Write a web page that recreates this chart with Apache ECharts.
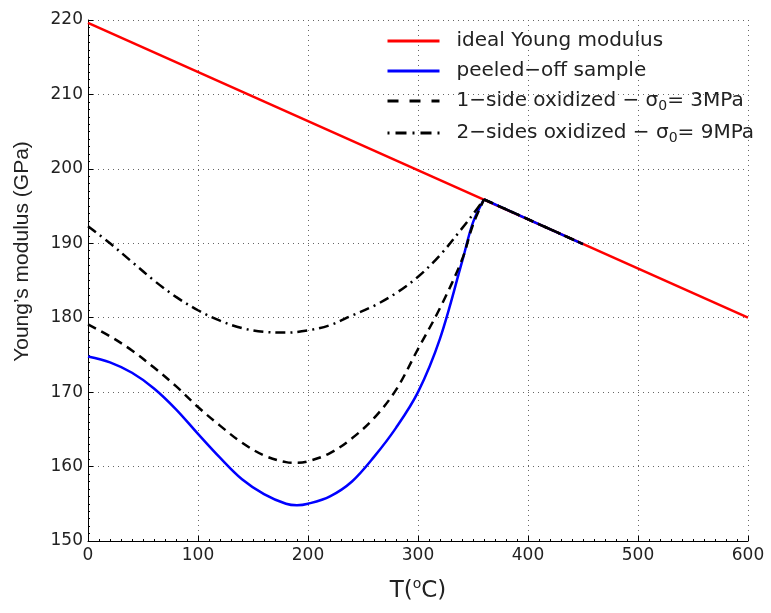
<!DOCTYPE html>
<html>
<head>
<meta charset="utf-8">
<script src="https://cdn.jsdelivr.net/npm/echarts@6/dist/echarts.min.js"></script>
<style>html,body{margin:0;padding:0;background:#fff}#c{width:771px;height:613px}</style>
</head>
<body>
<div id="c"></div>
<script>
// Data
const idealX = [0, 600];
const idealY = [219.6, 180.0];

// curved part (0..360 °C)
const peeledX = [0, 20, 40, 60, 80, 100, 120, 140, 160, 180, 190, 200, 220, 240, 260, 280, 300, 320, 340, 350, 360];
const peeledY = [174.8, 174.0, 172.6, 170.5, 167.7, 164.4, 161.2, 158.3, 156.3, 155.0, 154.8, 155.0, 156.0, 158.0, 161.3, 165.2, 170.0, 177.2, 187.5, 192.8, 195.9];

const oneSideX = [0, 20, 40, 60, 80, 100, 120, 140, 160, 180, 190, 200, 220, 240, 260, 280, 300, 320, 340, 350, 360];
const oneSideY = [179.1, 177.5, 175.6, 173.3, 170.8, 168.0, 165.5, 163.2, 161.5, 160.6, 160.5, 160.7, 161.8, 163.8, 166.5, 170.3, 175.8, 181.3, 187.8, 192.5, 195.9];

const twoSidesX = [0, 20, 40, 60, 80, 100, 120, 140, 160, 180, 200, 220, 240, 260, 280, 300, 320, 340, 350, 360];
const twoSidesY = [192.3, 190.0, 187.5, 185.0, 182.8, 181.0, 179.6, 178.6, 178.1, 178.0, 178.3, 179.0, 180.3, 181.6, 183.3, 185.5, 188.4, 192.0, 193.9, 195.9];

// straight part shared by the three measured curves (360..450 °C)
const tailX = [360, 450];
const tailY = [195.9, 189.9];

const xTicks = [0, 100, 200, 300, 400, 500, 600];
const yTicks = [150, 160, 170, 180, 190, 200, 210, 220];

const seriesNames = ['ideal Young modulus', 'peeled\u2212off sample', '1\u2212side oxidized \u2212 \u03c30= 3MPa', '2\u2212sides oxidized \u2212 \u03c30= 9MPa'];
const legendRich = {
  'ideal Young modulus': '{a|ideal Young modulus}',
  'peeled\u2212off sample': '{a|peeled\u2212off sample}',
  '1\u2212side oxidized \u2212 \u03c30= 3MPa': '{a|1\u2212side oxidized \u2212 \u03c3}{s|0}{a|= 3MPa}',
  '2\u2212sides oxidized \u2212 \u03c30= 9MPa': '{a|2\u2212sides oxidized \u2212 \u03c3}{s|0}{a|= 9MPa}'
};

function pairs(xs, ys) { return xs.map((x, i) => [x, ys[i]]); }

const chart = echarts.init(document.getElementById('c'), null, {renderer: 'canvas'});
const lblFont = 'DejaVu Sans';
const gridLine = {show: true, lineStyle: {color: '#666', type: [1, 4], width: 1}};

const blueStyle = {color: '#0000ff', width: 2.5};
const dashStyle = {color: '#000', width: 2.5, type: [9, 6]};
const dashDotStyle = {color: '#000', width: 2.5, type: [10, 5, 2, 5]};

function lineSeries(name, xs, ys, style, z, smooth) {
  return {name: name, type: 'line', data: pairs(xs, ys), showSymbol: false, symbol: 'none',
    smooth: smooth, lineStyle: style, itemStyle: {color: style.color}, z: z};
}

chart.setOption({
  animation: false,
  backgroundColor: '#fff',
  grid: {left: 88, right: 23, top: 20, bottom: 72, containLabel: false},
  legend: {
    orient: 'vertical',
    left: 381,
    top: 26,
    itemWidth: 52,
    itemHeight: 14,
    itemGap: 10,
    data: [
      {name: seriesNames[0]},
      {name: seriesNames[1]},
      {name: seriesNames[2], lineStyle: {type: [11, 11]}},
      {name: seriesNames[3], lineStyle: {type: [11, 6, 2, 6], dashOffset: 17}}
    ],
    formatter: n => legendRich[n],
    itemStyle: {opacity: 0},
    lineStyle: {width: 3},
    textStyle: {
      color: '#222',
      padding: [0, 0, 0, 12],
      rich: {
        a: {fontFamily: lblFont, fontSize: 20, color: '#222', lineHeight: 24},
        s: {fontFamily: lblFont, fontSize: 14, color: '#222', verticalAlign: 'bottom'}
      }
    }
  },
  xAxis: {
    type: 'value', min: xTicks[0], max: xTicks[xTicks.length - 1], interval: 100,
    name: '{a|T(}{o|o}{a|C)}', nameLocation: 'middle', nameGap: 36,
    nameTextStyle: {
      rich: {
        a: {fontFamily: lblFont, fontSize: 23, color: '#222', lineHeight: 28},
        o: {fontFamily: lblFont, fontSize: 14, color: '#222', verticalAlign: 'top', lineHeight: 18}
      }
    },
    axisLine: {show: true, lineStyle: {color: '#000', width: 1}},
    axisTick: {show: true, inside: true, length: 5, lineStyle: {color: '#000'}},
    minorTick: {show: true, splitNumber: 10, length: 2, lineStyle: {color: '#000'}},
    axisLabel: {fontFamily: lblFont, fontSize: 17, color: '#222', margin: 6},
    splitLine: gridLine
  },
  yAxis: {
    type: 'value', min: yTicks[0], max: yTicks[yTicks.length - 1], interval: 10,
    name: 'Young\u2019s modulus (GPa)', nameLocation: 'middle', nameGap: 55,
    nameTextStyle: {fontFamily: 'Liberation Sans', fontSize: 21, color: '#222', padding: [0, 0, 0, 58]},
    axisLine: {show: true, lineStyle: {color: '#000', width: 1}},
    axisTick: {show: true, inside: true, length: 5, lineStyle: {color: '#000'}},
    minorTick: {show: true, splitNumber: 10, length: 2, lineStyle: {color: '#000'}},
    axisLabel: {fontFamily: lblFont, fontSize: 17, color: '#222', margin: 5},
    splitLine: gridLine
  },
  series: [
    lineSeries(seriesNames[0], idealX, idealY, {color: '#ff0000', width: 2.5}, 1, false),
    lineSeries(seriesNames[1], peeledX, peeledY, blueStyle, 2, 0.35),
    lineSeries(seriesNames[1], tailX, tailY, blueStyle, 2, false),
    lineSeries(seriesNames[2], oneSideX, oneSideY, dashStyle, 3, 0.35),
    lineSeries(seriesNames[2], tailX, tailY, dashStyle, 3, false),
    lineSeries(seriesNames[3], twoSidesX, twoSidesY, dashDotStyle, 4, 0.35),
    lineSeries(seriesNames[3], tailX, tailY, dashDotStyle, 4, false)
  ]
});
</script>
</body>
</html>
